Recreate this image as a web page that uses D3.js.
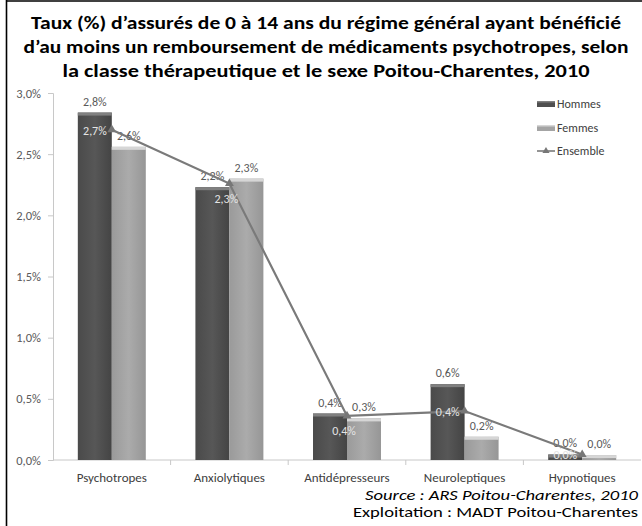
<!DOCTYPE html>
<html><head><meta charset="utf-8">
<script src="https://cdn.jsdelivr.net/npm/d3@7"></script>
<style>html,body{margin:0;padding:0;background:#fff;}svg{display:block;}</style>
</head><body>
<svg id="c" width="642" height="526"></svg>
<script>
const categories = ["Psychotropes","Anxiolytiques","Antidépresseurs","Neuroleptiques","Hypnotiques"];
const seriesNames = ["Hommes","Femmes","Ensemble"];
const hommes = [2.84, 2.23, 0.38, 0.62, 0.045];
const femmes = [2.56, 2.30, 0.34, 0.19, 0.04];
const ensemble = [2.70, 2.26, 0.36, 0.40, 0.045];
const yTicks = [0, 0.5, 1.0, 1.5, 2.0, 2.5, 3.0];
const titleLines = [
  "Taux (%) d’assurés de 0 à 14 ans du régime général ayant bénéficié",
  "d’au moins un remboursement de médicaments psychotropes, selon",
  "la classe thérapeutique et le sexe Poitou-Charentes, 2010"
];
const sourceLines = ["Source : ARS Poitou-Charentes, 2010", "Exploitation : MADT Poitou-Charentes"];
// label placement style for Ensemble labels (layout, not data)
const ensLabelPlacement = ["left","below","below","left","left"];

const svg = d3.select("#c");
const fmt = v => d3.format(".1f")(v).replace(".", ",") + "%";
const FONT = "Carlito, Lato, 'Open Sans', sans-serif";

// frame
svg.append("line").attr("x1",6.5).attr("x2",6.5).attr("y1",0).attr("y2",526).attr("stroke","#000").attr("stroke-width",1.6);
svg.append("line").attr("x1",6).attr("x2",642).attr("y1",1).attr("y2",1).attr("stroke","#000").attr("stroke-width",1.6);

// title
const titleW = [590, 605, 527];
const titleY = [29, 53, 77];
titleLines.forEach((t,i)=>{
  svg.append("text").attr("x",326).attr("y",titleY[i]).attr("text-anchor","middle")
    .attr("font-family",FONT).attr("font-weight","bold")
    .attr("font-size",18.5).attr("fill","#000")
    .attr("textLength",titleW[i]).attr("lengthAdjust","spacingAndGlyphs").text(t);
});

const x = d3.scaleBand().domain(categories).range([53, 641]).paddingInner(0).paddingOuter(0);
const x1 = d3.scaleBand().domain(["Hommes","Femmes"]).range([0, x.bandwidth()]).paddingInner(0).paddingOuter(0.73);
const y = d3.scaleLinear().domain([0, 3.0]).range([460, 93]);

// gradients
const defs = svg.append("defs");
function grad(id, stops){
  const g = defs.append("linearGradient").attr("id",id).attr("x1","0").attr("x2","1").attr("y1","0").attr("y2","0");
  stops.forEach(s=>g.append("stop").attr("offset",s[0]).attr("stop-color",s[1]));
}
grad("gH", [[0,"#4a4a4a"],[0.5,"#575757"],[1,"#444"]]);
grad("gF", [[0,"#9a9a9a"],[0.5,"#ababab"],[1,"#969696"]]);

// y axis
const yAxis = d3.axisLeft(y).tickValues(yTicks).tickFormat(fmt).tickSize(5).tickPadding(7);
const ga = svg.append("g").attr("transform","translate(53,0)").call(yAxis);
ga.select(".domain").attr("stroke","#c8c8c8");
ga.selectAll(".tick line").attr("stroke","#c8c8c8");
ga.selectAll("text").attr("font-family",FONT).attr("font-size",12.5).attr("fill","#595959");

// x axis
const gx = svg.append("g").attr("transform","translate(0,460)");
gx.append("line").attr("x1",53).attr("x2",641).attr("y1",0).attr("y2",0).attr("stroke","#c8c8c8");
gx.selectAll("line.tk").data(categories.slice(1)).join("line").attr("class","tk")
  .attr("x1",d=>x(d)).attr("x2",d=>x(d)).attr("y1",0).attr("y2",5).attr("stroke","#c8c8c8");
gx.selectAll("text").data(categories).join("text")
  .attr("x",d=>x(d)+x.bandwidth()/2).attr("y",22).attr("text-anchor","middle")
  .attr("font-family",FONT).attr("font-size",13).attr("fill","#404040").text(d=>d);

// bars
const barData = [];
categories.forEach((c,i)=>{
  barData.push({cat:c, s:"Hommes", v:hommes[i]});
  barData.push({cat:c, s:"Femmes", v:femmes[i]});
});
const bars = svg.append("g");
bars.selectAll("rect.bar").data(barData).join("rect").attr("class","bar")
  .attr("x",d=>x(d.cat)+x1(d.s)).attr("width",x1.bandwidth())
  .attr("y",d=>y(d.v)).attr("height",d=>y(0)-y(d.v))
  .attr("fill",d=>d.s==="Hommes"?"url(#gH)":"url(#gF)");
bars.selectAll("rect.cap").data(barData).join("rect").attr("class","cap")
  .attr("x",d=>x(d.cat)+x1(d.s)).attr("width",x1.bandwidth())
  .attr("y",d=>y(d.v)).attr("height",d=>Math.min(3, y(0)-y(d.v)))
  .attr("fill",d=>d.s==="Hommes"?"#808080":"#d6d6d6");

// bar labels
svg.append("g").selectAll("text").data(barData).join("text")
  .attr("x",d=>x(d.cat)+x1(d.s)+x1.bandwidth()/2).attr("y",d=>y(d.v)-7)
  .attr("text-anchor","middle").attr("font-family",FONT).attr("font-size",12)
  .attr("fill","#595959").text(d=>fmt(d.v));

// ensemble line
const cx = c => x(c)+x.bandwidth()/2;
const line = d3.line().x((d,i)=>cx(categories[i])).y(d=>y(d));
svg.append("path").datum(ensemble).attr("d",line).attr("fill","none").attr("stroke","#7a7a7a").attr("stroke-width",2.2);
const tri = d3.symbol().type(d3.symbolTriangle).size(34);
svg.append("g").selectAll("path").data(ensemble).join("path")
  .attr("transform",(d,i)=>`translate(${cx(categories[i])},${y(d)})`).attr("d",tri).attr("fill","#777");
svg.append("g").selectAll("text").data(ensemble).join("text")
  .attr("x",(d,i)=>ensLabelPlacement[i]==="left" ? cx(categories[i])-5 : cx(categories[i])-3)
  .attr("y",(d,i)=>ensLabelPlacement[i]==="left" ? y(d)+5 : y(d)+19)
  .attr("text-anchor",(d,i)=>ensLabelPlacement[i]==="left"?"end":"middle")
  .attr("font-family",FONT).attr("font-size",12).attr("fill","#e4e4e4")
  .text(d=>fmt(d));

// legend
const lg = svg.append("g").attr("transform","translate(537,0)");
const legY = [104, 128, 151];
seriesNames.forEach((s,i)=>{
  if (s==="Ensemble"){
    lg.append("line").attr("x1",0).attr("x2",18).attr("y1",legY[i]).attr("y2",legY[i]).attr("stroke","#7a7a7a").attr("stroke-width",1.6);
    lg.append("path").attr("transform",`translate(9,${legY[i]})`).attr("d",d3.symbol().type(d3.symbolTriangle).size(22)).attr("fill","#777");
  } else {
    lg.append("rect").attr("x",0).attr("y",legY[i]-3).attr("width",18).attr("height",6)
      .attr("fill", s==="Hommes"?"#4f4f4f":"#a4a4a4");
    lg.append("rect").attr("x",0).attr("y",legY[i]-3).attr("width",18).attr("height",1.5)
      .attr("fill", s==="Hommes"?"#808080":"#d6d6d6");
  }
  lg.append("text").attr("x",20).attr("y",legY[i]+4).attr("font-family",FONT)
    .attr("font-size",12).attr("fill","#404040").text(s);
});

// source
const srcW = [273, 285];
const srcY = [500, 517];
sourceLines.forEach((t,i)=>{
  svg.append("text").attr("x",638-srcW[i]).attr("y",srcY[i]).attr("text-anchor","start")
    .attr("font-family",FONT).attr("font-style",i===0?"italic":"normal")
    .attr("font-size",13.5).attr("fill","#000")
    .attr("textLength",srcW[i]).attr("lengthAdjust","spacingAndGlyphs").text(t);
});
</script>
</body></html>
